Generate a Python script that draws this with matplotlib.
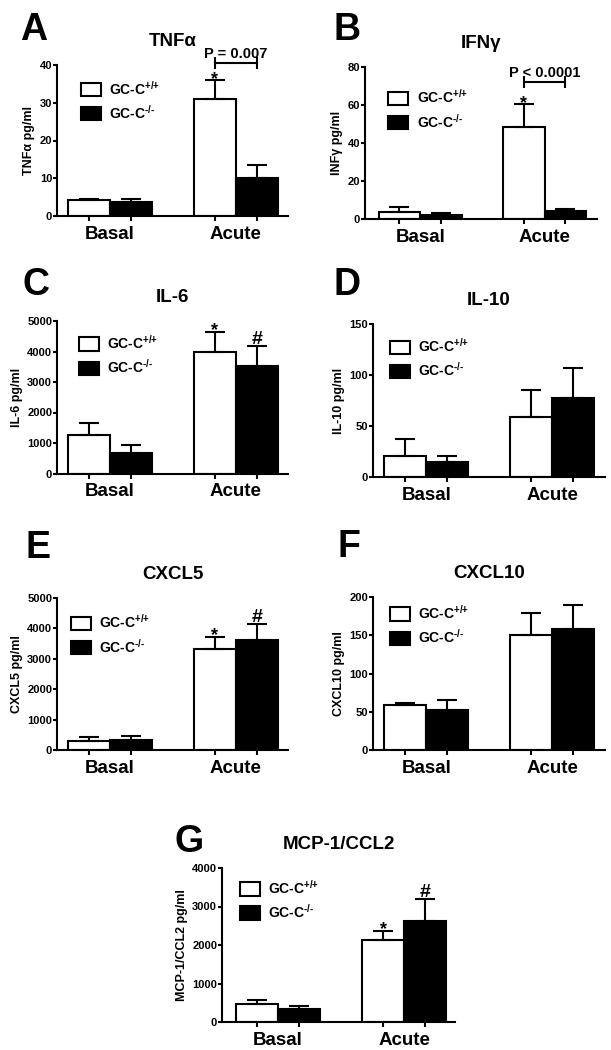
import matplotlib
matplotlib.use('Agg')
import matplotlib.pyplot as plt
import numpy as np

plt.rcParams['font.family'] = ['Liberation Sans', 'DejaVu Sans']
plt.rcParams['font.weight'] = 'bold'
plt.rcParams['mathtext.fontset'] = 'custom'
plt.rcParams['mathtext.rm'] = 'Liberation Sans:bold'
plt.rcParams['mathtext.bf'] = 'Liberation Sans:bold'
plt.rcParams['mathtext.default'] = 'bf'

groups = ['Basal', 'Acute']
genotypes = ['GC-C$^{\\text{+/+}}$', 'GC-C$^{\\text{-/-}}$']

# values per group [Basal, Acute], mean and SEM (upper only)
tnf_wt, tnf_wt_err = [4.3, 31.0], [0.3, 4.9]
tnf_ko, tnf_ko_err = [3.6, 10.1], [0.8, 3.5]
ifn_wt, ifn_wt_err = [3.8, 48.4], [2.3, 12.0]
ifn_ko, ifn_ko_err = [2.2, 4.3], [0.8, 1.0]
il6_wt, il6_wt_err = [1260, 3990], [385, 660]
il6_ko, il6_ko_err = [680, 3535], [245, 655]
il10_wt, il10_wt_err = [21.1, 59.6], [16.7, 25.6]
il10_ko, il10_ko_err = [14.8, 78.0], [6.6, 29.0]
cxcl5_wt, cxcl5_wt_err = [311, 3333], [133, 398]
cxcl5_ko, cxcl5_ko_err = [333, 3634], [134, 506]
cxcl10_wt, cxcl10_wt_err = [58.7, 150.0], [3.0, 29.0]
cxcl10_ko, cxcl10_ko_err = [52.2, 157.8], [13.0, 31.2]
mcp_wt, mcp_wt_err = [478, 2130], [87, 244]
mcp_ko, mcp_ko_err = [348, 2635], [69, 565]

W, H = 611, 1050
fig = plt.figure(figsize=(W / 100, H / 100), dpi=100)


def add_ax(left, right, top, bottom):
    return fig.add_axes([left / W, 1 - bottom / H, (right - left) / W, (bottom - top) / H])


def panel(ax, wt, wt_err, ko, ko_err, ymax, ystep, title, ylabel, xlim, leg_at,
          star=False, hash_=False):
    x = np.array([0, 3])
    ax.bar(x, wt, width=1, color='white', edgecolor='black', linewidth=1.5,
           label=genotypes[0], zorder=2)
    ax.bar(x + 1, ko, width=1, color='black', edgecolor='black', linewidth=1.5,
           label=genotypes[1], zorder=2)
    ax.errorbar(x, wt, yerr=[np.zeros(2), wt_err], fmt='none', ecolor='black',
                elinewidth=1.5, capsize=7.5, capthick=1.5, zorder=3)
    ax.errorbar(x + 1, ko, yerr=[np.zeros(2), ko_err], fmt='none', ecolor='black',
                elinewidth=1.5, capsize=7.5, capthick=1.5, zorder=3)

    ax.set_xlim(*xlim)
    ax.set_ylim(0, ymax)
    ax.set_yticks(np.arange(0, ymax + ystep / 2, ystep))
    ax.set_xticks([0.5, 3.5])
    ax.set_xticklabels(groups)
    ax.set_xticks([0, 1, 3, 4], minor=True)
    for s in ['top', 'right']:
        ax.spines[s].set_visible(False)
    for s in ['left', 'bottom']:
        ax.spines[s].set_linewidth(1.5)
    ax.tick_params(axis='y', length=3, width=1.5, pad=0.5, labelsize=8)
    ax.tick_params(axis='x', which='major', length=0, pad=7, labelsize=13.5)
    ax.tick_params(axis='x', which='minor', length=3.6, width=1.5)
    ax.set_title(title, fontsize=13.5, fontweight='bold', pad=14)
    ax.set_ylabel(ylabel, fontsize=9, fontweight='bold', labelpad=3)

    ax.legend(loc='upper left', bbox_to_anchor=leg_at, frameon=False, fontsize=10,
              handlelength=1.45, handleheight=1.1, handletextpad=0.6,
              labelspacing=0.45, borderpad=0, borderaxespad=0)

    if star:
        ax.annotate('*', (3, wt[1] + wt_err[1]), xytext=(0, -2.5),
                    textcoords='offset points', ha='center', va='baseline',
                    fontsize=13, fontweight='bold')
    if hash_:
        ax.annotate('#', (4, ko[1] + ko_err[1]), xytext=(0, 1.5),
                    textcoords='offset points', ha='center', va='baseline',
                    fontsize=14, fontweight='bold')


def bracket(ax, y, label):
    ax.plot([3, 4], [y, y], color='black', lw=1.5, marker='|', markersize=8,
            mew=1.5, clip_on=False, zorder=4)
    ax.annotate(label, (3.5, y), xytext=(0, 3.5), textcoords='offset points',
                ha='center', va='baseline', fontsize=10.5, fontweight='bold',
                annotation_clip=False)


axA = add_ax(57, 288, 65, 216)
panel(axA, tnf_wt, tnf_wt_err, tnf_ko, tnf_ko_err, 40, 10, 'TNFα', 'TNFα pg/ml',
      (-0.76, 4.74), (0.103, 0.905), star=True)
bracket(axA, 40.6, 'P = 0.007')

axB = add_ax(365, 597, 67, 219)
panel(axB, ifn_wt, ifn_wt_err, ifn_ko, ifn_ko_err, 80, 20, 'IFNγ', 'INFγ pg/ml',
      (-0.83, 4.76), (0.1, 0.86), star=True)
bracket(axB, 72, 'P < 0.0001')

axC = add_ax(57, 288, 321, 473.5)
panel(axC, il6_wt, il6_wt_err, il6_ko, il6_ko_err, 5000, 1000, 'IL-6', 'IL-6 pg/ml',
      (-0.76, 4.74), (0.095, 0.915), star=True, hash_=True)

axD = add_ax(373, 605, 324, 477.5)
panel(axD, il10_wt, il10_wt_err, il10_ko, il10_ko_err, 150, 50, 'IL-10', 'IL-10 pg/ml',
      (-0.77, 4.75), (0.073, 0.915), star=False)

axE = add_ax(57, 288, 598, 750)
panel(axE, cxcl5_wt, cxcl5_wt_err, cxcl5_ko, cxcl5_ko_err, 5000, 1000, 'CXCL5',
      'CXCL5 pg/ml', (-0.76, 4.74), (0.06, 0.9), star=True, hash_=True)

axF = add_ax(373, 605, 597, 750)
panel(axF, cxcl10_wt, cxcl10_wt_err, cxcl10_ko, cxcl10_ko_err, 200, 50, 'CXCL10',
      'CXCL10 pg/ml', (-0.77, 4.75), (0.073, 0.955), star=False)

axG = add_ax(222, 455, 868, 1022)
panel(axG, mcp_wt, mcp_wt_err, mcp_ko, mcp_ko_err, 4000, 1000, 'MCP-1/CCL2',
      'MCP-1/CCL2 pg/ml', (-0.83, 4.71), (0.077, 0.93), star=True, hash_=True)

letters = [('A', 20, 40), ('B', 333, 40), ('C', 22, 295), ('D', 333, 295),
           ('E', 25, 558), ('F', 337, 557), ('G', 175, 852)]
for letter, lx, ly in letters:
    fig.text(lx / W, 1 - ly / H, letter, fontsize=27, fontweight='bold',
             ha='left', va='baseline')

fig.savefig('out.png', dpi=100)
